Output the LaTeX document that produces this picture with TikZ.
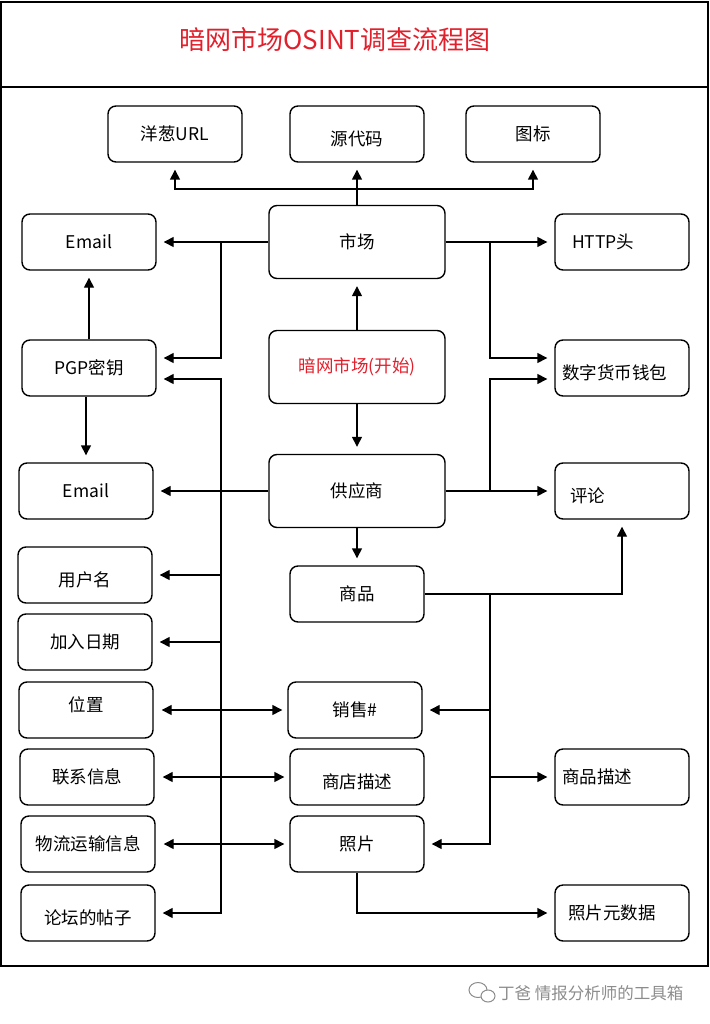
\documentclass[tikz,border=0pt]{standalone}
\usepackage{fontspec}
\setmainfont{Noto Sans CJK SC}
\usetikzlibrary{arrows.meta}
\definecolor{titlered}{RGB}{226,32,44}
\definecolor{wmgray}{RGB}{140,140,140}
\begin{document}
\begin{tikzpicture}[x=1pt,y=-1pt,
  box/.style={draw, line width=1.4pt, rounded corners=8pt, minimum width=134pt,
    minimum height=56pt, inner sep=0pt, font=\fontsize{17.5}{20}\selectfont},
  bigbox/.style={box, minimum width=176pt, minimum height=73pt},
  lbox/.style={box, align=left, text width=#1},
  dn/.style={text height=24.4pt, text depth=2.1pt},
  upt/.style={text height=5.4pt, text depth=2.1pt},
  conn/.style={line width=1.4pt, -{Triangle[length=10pt,width=10pt]}, shorten >=7pt},
  dconn/.style={line width=1.4pt, {Triangle[length=10pt,width=10pt]}-{Triangle[length=10pt,width=10pt]}, shorten >=5pt, shorten <=8pt},
  plain/.style={line width=1.4pt}
]
\useasboundingbox (0,0) rectangle (709,1024);
% frame
\draw[line width=2pt] (1,2) rectangle (708,966);
\draw[line width=2pt] (1,87) -- (708,87);
\node[font=\fontsize{26}{30}\selectfont, text=titlered] (title) at (335,40) {暗网市场OSINT调查流程图};

% top row
\node[box] (url) at (175,134) {洋葱URL};
\node[box, dn] (src) at (357,134) {源代码};
\node[box] (icon) at (533,134) {图标};

% center column
\node[bigbox] (mkt) at (357,242) {市场};
\node[bigbox, text=titlered] (dm) at (357,367) {暗网市场(开始)};
\node[bigbox] (vendor) at (357,491) {供应商};
\node[box] (goods) at (357,594) {商品};
\node[box] (sales) at (355,710) {销售\#};
\node[box, dn] (shop) at (357,777) {商店描述};
\node[box] (photo) at (357,844) {照片};

% left column
\node[box] (email1) at (89,242) {Email};
\node[box] (pgp) at (89,368) {PGP密钥};
\node[box] (email2) at (86,491) {Email};
\node[box, dn] (user) at (85,575) {用户名};
\node[box] (join) at (85,642) {加入日期};
\node[box, upt] (loc) at (86,710) {位置};
\node[box] (contact) at (87,777) {联系信息};
\node[box] (ship) at (88,844) {物流运输信息};
\node[box, dn] (forum) at (88,913) {论坛的帖子};

% right column
\node[lbox=100pt] (http) at (622,242) {HTTP头};
\node[lbox=120pt, dn] (wallet) at (622,368) {数字货币钱包};
\node[lbox=104pt, dn] (review) at (622,491) {评论};
\node[lbox=120pt] (gdesc) at (622,777) {商品描述};
\node[lbox=108pt] (pmeta) at (622,913) {照片元数据};

% bus coordinates
\coordinate (lb) at (221,0);
\coordinate (rb) at (490,0);
\coordinate (tb) at (0,189);

% market to top row
\draw[conn] (mkt.north) -- (mkt.north |- src.south);
\draw[conn] (mkt.north |- tb) -| (url.south);
\draw[conn] (mkt.north |- tb) -| (icon.south);

% center chain
\draw[conn] (dm.north) -- (mkt.south);
\draw[conn] (dm.south) -- (vendor.north);
\draw[conn] (vendor.south) -- (vendor.south |- goods.north);

% PGP
\draw[conn] (pgp.north) -- (email1.south);
\draw[conn] (pgp.south -| email2.north) -- (email2.north);

% left bus
\draw[conn] (mkt.west) -- (mkt.west -| email1.east);
\draw[conn] (mkt.west -| lb) |- ([yshift=10pt]pgp.east);
\draw[conn] (vendor.west) -- (vendor.west -| email2.east);
\draw[conn] (vendor.west -| lb) |- ([yshift=-11pt]pgp.east);
\draw[conn] (vendor.west -| lb) |- (forum.east);
\draw[conn] (user.east -| lb) -- (user.east);
\draw[conn] (join.east -| lb) -- (join.east);

% right bus
\draw[conn] (mkt.east) -- (mkt.east -| http.west);
\draw[conn] (mkt.east -| rb) |- ([yshift=10pt]wallet.west);
\draw[conn] (vendor.east) -- (vendor.east -| review.west);
\draw[conn] (vendor.east -| rb) |- ([yshift=-11pt]wallet.west);
\draw[conn] (goods.east) -| (review.south);
\draw[conn] (goods.east -| rb) |- (sales.east);
\draw[conn] (goods.east -| rb) |- (photo.east);
\draw[conn] (gdesc.west -| rb) -- (gdesc.west);

% double arrows
\draw[dconn] (loc.east) -- (loc.east -| sales.west);
\draw[dconn] (contact.east) -- (contact.east -| shop.west);
\draw[dconn] (ship.east) -- (ship.east -| photo.west);

% photo metadata
\draw[conn] (photo.south) |- (pmeta.west);

% watermark
\draw[wmgray, line width=1pt] (478,990) ellipse [x radius=9, y radius=7.5];
\draw[wmgray, line width=1pt, fill=white] (488,996) ellipse [x radius=7, y radius=6];
\node[anchor=west, text=wmgray, font=\fontsize{16.5}{20}\selectfont, inner sep=0pt] (wm) at (498,993) {丁爸 情报分析师的工具箱};
\end{tikzpicture}
\end{document}
